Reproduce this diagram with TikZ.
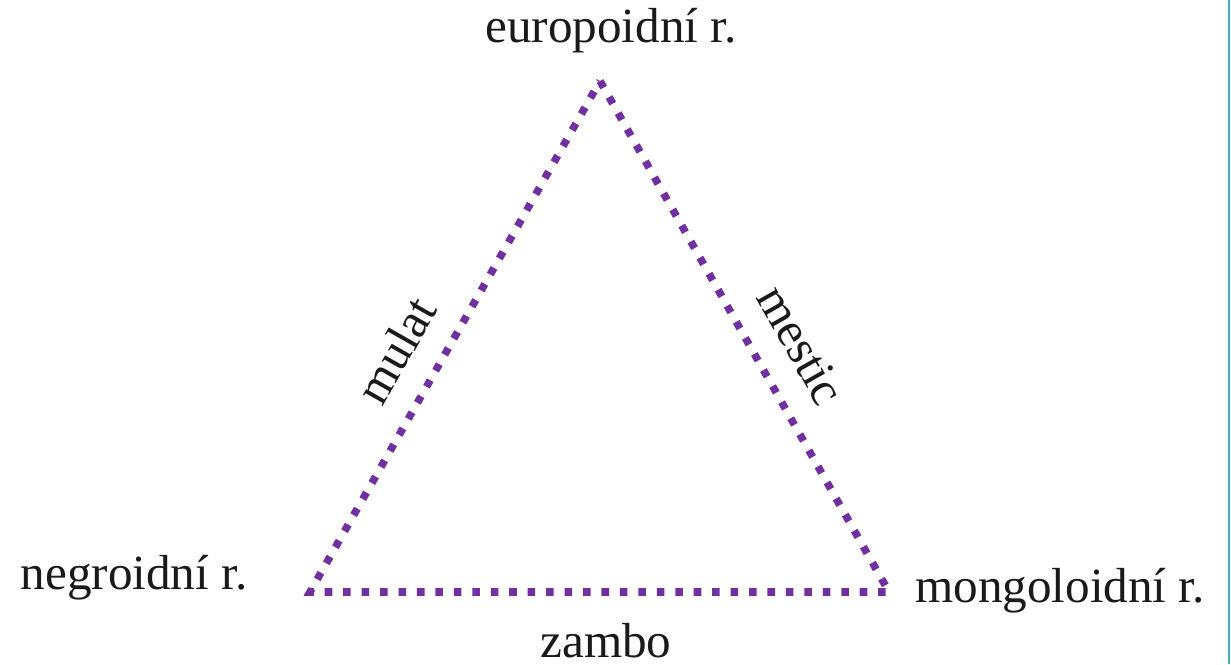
\documentclass[tikz,border=0pt]{standalone}
\usepackage{fontspec}
\setmainfont{Liberation Serif}
\usepackage{xcolor}
\usepackage{tikz}
\usetikzlibrary{calc,positioning}
\definecolor{hybridline}{HTML}{7030A0}
\definecolor{frameedge}{HTML}{4BACC6}
\definecolor{figink}{HTML}{1A1A1A}

\begin{document}
\begin{tikzpicture}[
    x=0.02cm, y=-0.02cm,
    every node/.style={font=\fontsize{28}{34}\selectfont, text=figink, inner sep=0pt},
    hybrid/.style={hybridline, line width=4.3pt, line cap=butt,
      dash pattern=on 4.3pt off 6.2pt},
  ]
  \useasboundingbox (0,0) rectangle (1231,664);
  \draw[frameedge, line width=1.1pt] (1229,0) -- (1229,664);

  \coordinate (eu) at (600,81);
  \coordinate (ne) at (310,592);
  \coordinate (mo) at (889,592);

  \draw[hybrid] (eu) -- (mo) -- (ne) -- cycle;

  \node (europ) at (611,31) {europoidní r.};
  \node (negro) at (134,578) {negroidní r.};
  \node (mongo) at (1060,591) {mongoloidní r.};

  \node[rotate=60.4] (mulat) at (396,350) {mulat};
  \node[rotate=-60.4] (mestic) at (801,345) {mestic};
  \node (zambo) at (606,641) {zambo};
\end{tikzpicture}
\end{document}
